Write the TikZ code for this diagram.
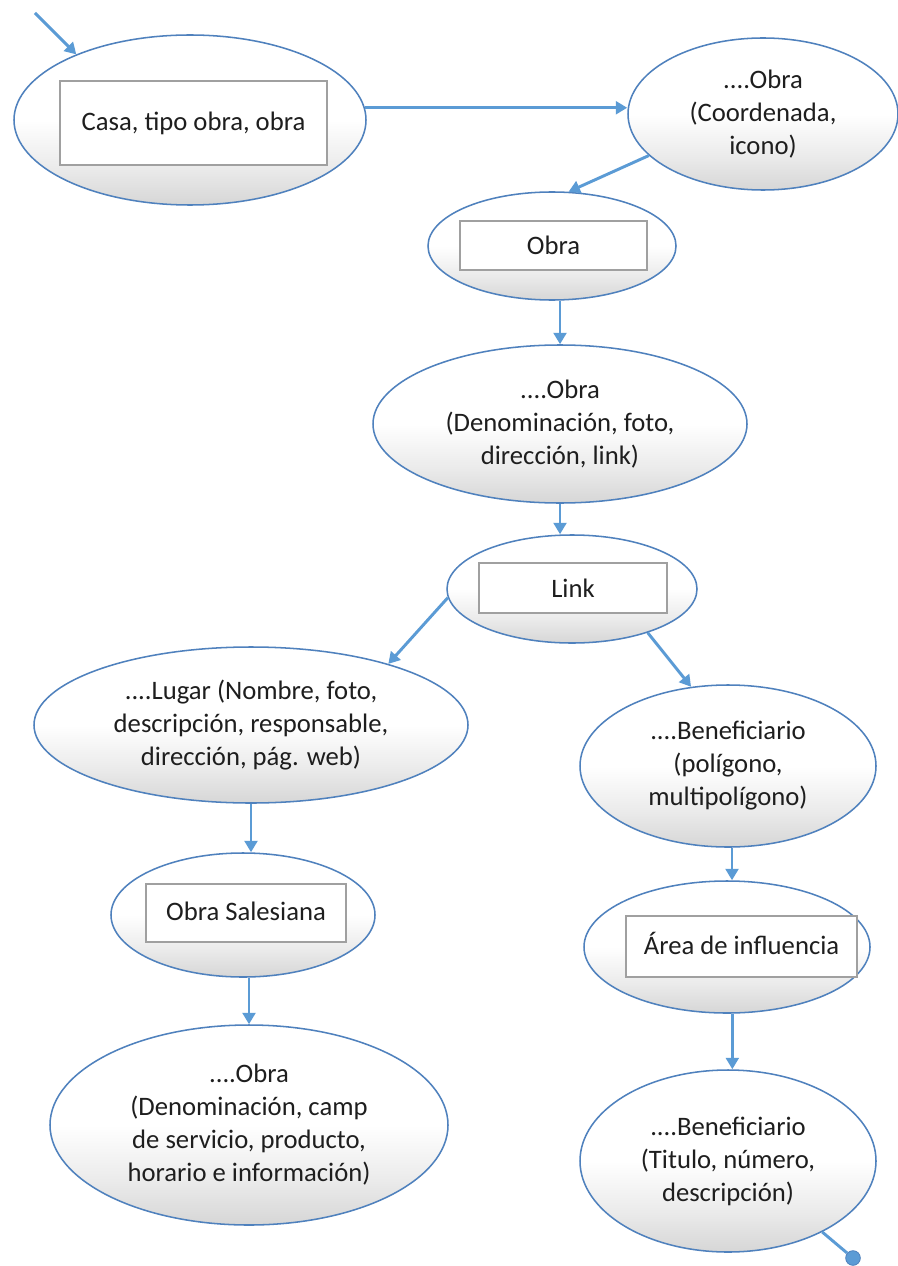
\documentclass[tikz,border=0pt]{standalone}
\usepackage{fontspec}
\setmainfont{Carlito}
\usetikzlibrary{shapes.geometric,arrows.meta}
\definecolor{edgeblue}{RGB}{79,129,189}
\definecolor{arrowblue}{RGB}{91,155,213}
\definecolor{boxgray}{RGB}{160,160,160}
\definecolor{ink}{RGB}{30,30,30}
% white upper half fading into light grey at the bottom (path spans 25bp..75bp)
\pgfdeclareverticalshading{ellfill}{100bp}{color(0bp)=(black!16); color(25bp)=(black!16);
  color(36bp)=(black!8); color(50bp)=(white); color(100bp)=(white)}
\newcommand\diafont{\fontsize{20pt}{24.75pt}\selectfont}
\tikzset{
  ell/.style 2 args={ellipse, draw=edgeblue, line width=1.15pt,
    shading=ellfill,
    minimum width=#1*1.5pt, minimum height=#2*1.5pt, inner sep=0pt,
    align=center, font=\diafont, text=ink},
  box/.style 2 args={rectangle, draw=boxgray, fill=white, line width=0.9pt,
    minimum width=#1*0.75pt, minimum height=#2*0.75pt, inner sep=0pt,
    font=\diafont, text=ink},
  conn/.style={draw=arrowblue, line width=2.2pt, -{Triangle[length=8.5pt,width=9.5pt]}},
}
\begin{document}
\begin{tikzpicture}[x=0.75pt, y=-0.75pt]
  \fill[white] (0,0) rectangle (898,1266);
  \useasboundingbox (0,0) rectangle (898,1266);

  % ellipses and their inner boxes
  \node[ell={176}{85}] (e1) at (190,120) {};
  \node[box={267}{84}] (r1) at (193.5,123) {Casa, tipo obra, obra};
  \node[ell={135}{76}] (e2) at (763,114) {....Obra\\(Coordenada,\\icono)};
  \node[ell={124}{54}] (e3) at (552,246) {};
  \node[box={187}{49}] (r3) at (553.5,245.5) {Obra};
  \node[ell={187}{79}] (e4) at (560,424) {....Obra\\(Denominación, foto,\\dirección, link)};
  \node[ell={125}{54}] (e5) at (572,589) {};
  \node[box={188}{50}] (r5) at (573,588) {Link};
  \node[ell={217}{78}] (e6) at (251,725) {....Lugar (Nombre, foto,\\descripción, responsable,\\dirección, pág. web)};
  \node[ell={132}{62}] (e7) at (243,915) {};
  \node[box={200}{58}] (r7) at (246,913) {\raisebox{3pt}{Obra Salesiana}};
  \node[ell={199}{100}] (e8) at (249,1125) {....Obra\\(Denominación, camp\\de servicio, producto,\\horario e información)};
  \node[ell={148}{81}] (e9) at (728,766) {....Beneficiario\\(polígono,\\multipolígono)};
  \node[ell={143}{66}] (e10) at (727,947) {};
  \node[box={231}{61}] (r10) at (741.5,946.5) {\raisebox{4.5pt}{Área de influencia}};
  \node[ell={148}{91}] (e11) at (728,1161) {....Beneficiario\\(Titulo, número,\\descripción)};

  % free ends
  \coordinate (start) at (35,13);
  \node[circle, fill=arrowblue, draw=edgeblue, line width=0.6pt,
        minimum size=11pt, inner sep=0pt] (dot) at (853,1258) {};

  % connectors
  \draw[conn] (start) -- (e1.150);
  \draw[conn] (e1.4) -- (e1.4 -| e2.west);
  \draw[conn] (e2.200) -- (e3.73);
  \draw[conn] (e3.south -| e4.north) -- (e4.north);
  \draw[conn] (e4.south) -- (e4.south |- e5.north);
  \draw[conn] (e5.184) -- (e6.24);
  \draw[conn] (e5.330) -- (e9.115);
  \draw[conn] (e6.south) -- (e6.south |- e7.north);
  \draw[conn] (e8.north |- e7.south) -- (e8.north);
  \draw[conn] ([xshift=3pt]e9.south) -- ([xshift=3pt]e9.south |- e10.north);
  \draw[conn] ([xshift=4pt]e10.south) -- ([xshift=4pt]e10.south |- e11.north);
  \draw[draw=arrowblue, line width=2.2pt] (e11.323) -- (dot);
\end{tikzpicture}
\end{document}
